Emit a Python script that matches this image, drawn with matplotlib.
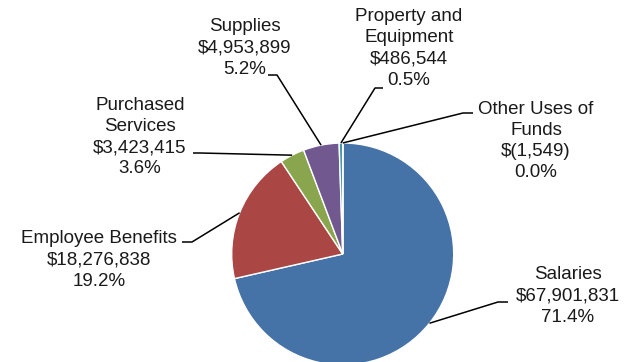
import numpy as np
import matplotlib
matplotlib.use('Agg')
import matplotlib.pyplot as plt

# expenditure categories and amounts (negative means a net credit)
categories = ['Salaries', 'Employee Benefits', 'Purchased\nServices', 'Supplies',
              'Property and\nEquipment', 'Other Uses of\nFunds']
amounts = [67901831, 18276838, 3423415, 4953899, 486544, -1549]
colors = ['#4572A7', '#AA4643', '#89A54E', '#71588F', '#4198AF', '#DB843D']

# label block centre (px) and leader elbow (px), figure is 626x362
label_pos = [(568, 296), (99, 260), (140, 137), (245, 48), (409, 48.5), (536, 141)]
elbows = [((508, 302), (498, 302)),
          ((182, 242), (192, 242)),
          ((193, 153), (200, 153)),
          ((268, 75), (277, 75)),
          ((383, 88), (375, 88)),
          ((473, 113), (463, 113))]

W, H = 626, 362
center = (342.7, H - 254)
radius = 111

plt.rcParams['font.family'] = ['Liberation Sans', 'DejaVu Sans']

fig = plt.figure(figsize=(W / 100, H / 100), dpi=100)
ax = fig.add_axes([0, 0, 1, 1])

sizes = np.abs(amounts)
wedges, _ = ax.pie(sizes, colors=colors, startangle=90, counterclock=False,
                   center=center, radius=radius,
                   wedgeprops=dict(edgecolor='white', linewidth=1))

# pie() resets the limits, so pin them to pixel units afterwards
ax.set_xlim(0, W)
ax.set_ylim(0, H)
ax.set_aspect('equal')
ax.axis('off')


def money(v):
    return '$({:,})'.format(-v) if v < 0 else '${:,}'.format(v)


total = sum(amounts)
for w, cat, amt, (lx, ly), (p0, p1) in zip(wedges, categories, amounts, label_pos, elbows):
    ang = np.deg2rad((w.theta1 + w.theta2) / 2)
    ax_x = center[0] + radius * np.cos(ang)
    ax_y = center[1] + radius * np.sin(ang)
    ax.plot([p0[0], p1[0], ax_x], [H - p0[1], H - p1[1], ax_y],
            color='black', lw=1.1, solid_capstyle='butt')
    pct = round(amt / total * 100, 1) + 0.0  # avoid printing -0.0
    text = '{}\n{}\n{:.1f}%'.format(cat, money(amt), pct)
    ax.text(lx, H - ly, text, ha='center', va='center', fontsize=13.5,
            color='#1a1a1a', linespacing=1.31, multialignment='center')

fig.savefig('out.png', dpi=100)
